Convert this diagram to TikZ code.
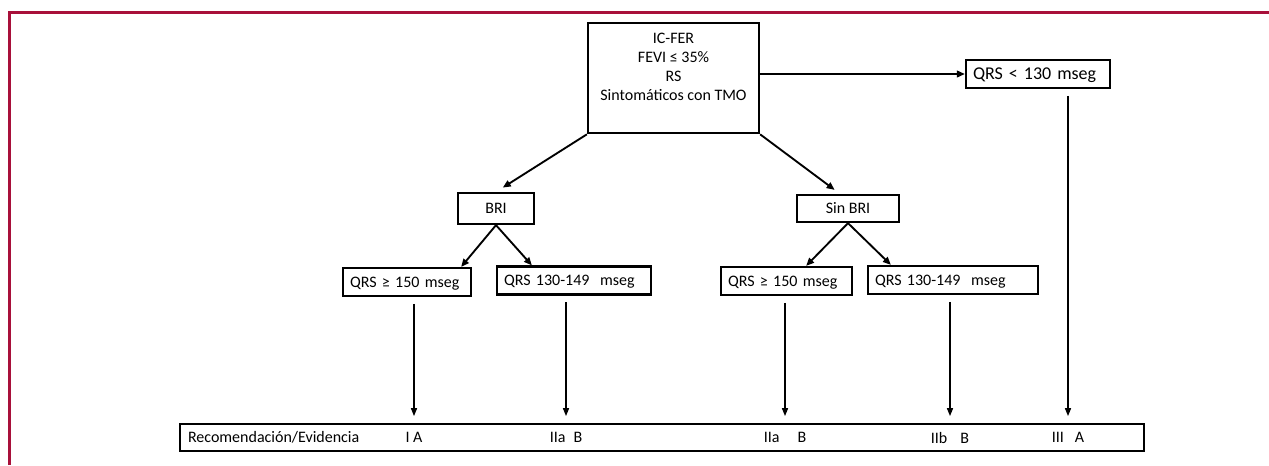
\documentclass[tikz,border=0pt]{standalone}
\usepackage{fontspec}
\setmainfont{Carlito}
\usepackage{xcolor}
\usetikzlibrary{arrows.meta}

\begin{document}
\begin{tikzpicture}[x=0.75pt,y=0.75pt,yscale=-1,xscale=1,
  every node/.style={font=\fontsize{12pt}{14.25pt}\selectfont},
  flowbox/.style={draw, line width=1.7pt, inner sep=0pt, minimum height=21pt, align=center},
  qrsbox/.style={draw, line width=1.7pt, inner ysep=0pt, inner xsep=5.25pt, minimum height=21pt, text width=#1, text height=10pt, text depth=2.3pt, align=left},
  diagarr/.style={line width=1.4pt, -{Triangle[length=6pt,width=5pt]}},
  vertarr/.style={line width=1.1pt, -{Triangle[length=6pt,width=4.5pt]}, shorten <=5pt, shorten >=5pt}]
\useasboundingbox (0,0) rectangle (1269,465);

%Straight Lines: frame
\draw [color={rgb, 255:red, 168; green, 16; blue, 58 }, line width=2.25pt] (9,465) -- (9,12) -- (1269,12) ;

%Shape: Rectangle
\node [flowbox, minimum width=128.25pt, inner ysep=7.5pt] (main) at (673.5,78) {IC-FER\\FEVI ≤ 35\%\\RS\\Sintomáticos con TMO\rule[-17.25pt]{0pt}{17.25pt}};
\node [qrsbox=97.5pt, font=\fontsize{13.5pt}{16pt}\selectfont] (lt130) at (1038,74) {QRS < 130 mseg};
\node [flowbox, minimum width=57pt, minimum height=23.25pt] (bri) at (496,208.5) {BRI};
\node [flowbox, minimum width=76.5pt, minimum height=20.25pt] (sinbri) at (848,208.5) {Sin BRI};
\node [qrsbox=85.5pt] (qbri1) at (407,282) {QRS ≥ 150 mseg};
\node [qrsbox=105pt] (qbri2) at (574,280.5) {QRS 130-149\ \ mseg};
\node [qrsbox=87.75pt] (qsin1) at (786.5,281) {QRS ≥ 150 mseg};
\node [qrsbox=117pt] (qsin2) at (953,280) {QRS 130-149\ \ mseg};

%Shape: Rectangle (recommendation row)
\node [draw, line width=1.8pt, inner ysep=0pt, inner xsep=6pt, minimum height=20.25pt, text width=711pt, text height=10pt, text depth=2.3pt, align=left] (rec) at (662,437.5) {Recomendación/Evidencia};
% Text Node
\node (recA) at (414,437.5) {I A};
\node (recB) at (566,437.5) {IIa\hspace{6pt}B};
\node (recC) at (785,437.5) {IIa\hspace{13.5pt}B};
\node (recD) at (950,437.5) {IIb\hspace{9.75pt}B};
\node (recE) at (1068,437.5) {III\hspace{8.25pt}A};

%Straight Lines
\draw [diagarr] (main.east |- lt130) -- (lt130.west) ;
\draw [diagarr, shorten >=6pt] (main.south west) -- (bri.north) ;
\draw [diagarr, shorten >=5pt] (main.south east) -- ([xshift=-6pt]sinbri.north) ;
\draw [diagarr] (bri.south) -- ([xshift=-8.25pt]qbri1.north east) ;
\draw [diagarr] (bri.south) -- ([xshift=27pt]qbri2.north west) ;
\draw [diagarr] (sinbri.south) -- ([xshift=-35.25pt]qsin1.north east) ;
\draw [diagarr] (sinbri.south) -- ([xshift=18pt]qsin2.north west) ;

%Straight Lines: down to the row
\draw [vertarr] (qbri1.south -| recA) -- (rec.north -| recA) ;
\draw [vertarr] (qbri2.south -| recB) -- (rec.north -| recB) ;
\draw [vertarr] (qsin1.south -| recC) -- (rec.north -| recC) ;
\draw [vertarr] (qsin2.south -| recD) -- (rec.north -| recD) ;
\draw [vertarr] (lt130.south -| recE) -- (rec.north -| recE) ;

\end{tikzpicture}
\end{document}
